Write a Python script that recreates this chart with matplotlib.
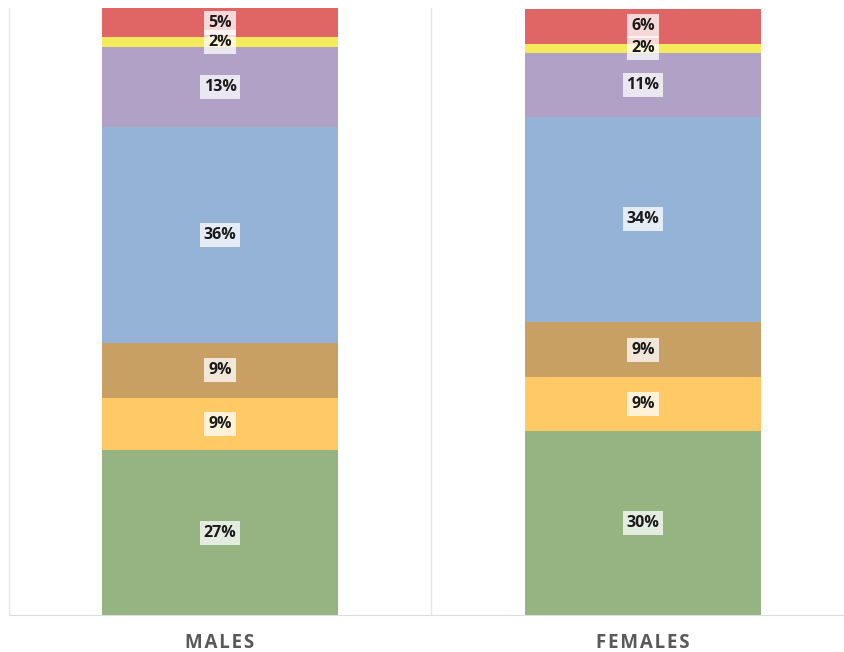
import numpy as np
import matplotlib.pyplot as plt

# Data (percent shares, bottom to top)
groups = ['MALES', 'FEMALES']
males = [27.2, 8.6, 9.1, 35.6, 13.2, 1.6, 4.8]
females = [30.3, 8.9, 9.1, 33.9, 10.5, 1.5, 5.8]
labels_m = ['27%', '9%', '9%', '36%', '13%', '2%', '5%']
labels_f = ['30%', '9%', '9%', '34%', '11%', '2%', '6%']
colors = ['#96B482', '#FFC965', '#C8A064', '#95B2D7', '#B2A1C7', '#F3EB5B', '#E06666']

plt.rcParams['font.family'] = ['Open Sans', 'DejaVu Sans']

fig = plt.figure(figsize=(8.45, 6.52), dpi=100)
ax = fig.add_axes([8.5 / 845, 37 / 652, 836.5 / 845, 607 / 652])

x = np.arange(len(groups))
data = np.array([males, females])
labels = [labels_m, labels_f]
width = 0.558

bottoms = np.zeros(len(groups))
for k in range(data.shape[1]):
    vals = data[:, k]
    ax.bar(x, vals, width, bottom=bottoms, color=colors[k], edgecolor='none')
    for i in range(len(groups)):
        ax.text(x[i], bottoms[i] + vals[i] / 2, labels[i][k], ha='center', va='center',
                fontsize=11.5, fontweight='bold', color='#1a1a1a',
                bbox=dict(boxstyle='square,pad=0.25', facecolor='white', alpha=0.75, edgecolor='none'))
    bottoms += vals

# Category separators
for xv in [-0.5, 0.5]:
    ax.axvline(xv, color='#E6E6E6', lw=1, zorder=0)

ax.set_xlim(-0.5, -0.5 + 836.5 / 423)
ax.set_ylim(0, bottoms.max())
for s in ['top', 'right', 'left']:
    ax.spines[s].set_visible(False)
ax.spines['bottom'].set_color('#DDDDDD')
ax.set_yticks([])
ax.set_xticks(x)
# letter-spaced category names
ax.set_xticklabels(['\u200a'.join(g) for g in groups], fontsize=13.5, fontweight='bold', color='#595959')
ax.tick_params(axis='x', length=0, pad=13)

fig.savefig('out.png', dpi=100)
